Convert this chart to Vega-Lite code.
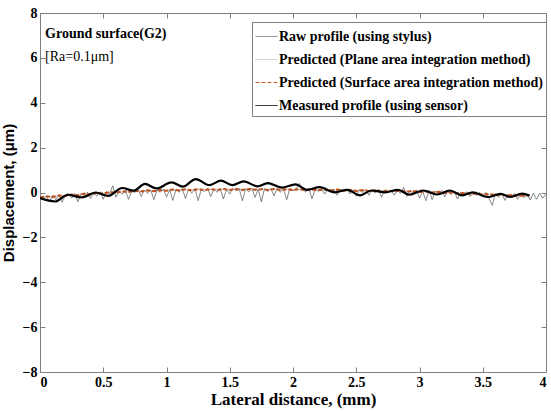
{
  "$schema": "https://vega.github.io/schema/vega-lite/v6.json",
  "width": 506,
  "height": 359,
  "autosize": {"type": "none"},
  "padding": {"left": 40, "top": 13, "right": 5, "bottom": 40},
  "background": "white",
  "datasets": {
    "notes": [
      {"x": 0.04, "y": 7.05, "label": "Ground surface(G2)", "w": "bold"},
      {"x": 0.04, "y": 6.05, "label": "[Ra=0.1μm]", "w": "normal"}
    ],
    "lines": [
      {"s":"Raw profile (using stylus)","x":0.000,"y":-0.17},{"s":"Raw profile (using stylus)","x":0.025,"y":-0.31},{"s":"Raw profile (using stylus)","x":0.050,"y":-0.16},{"s":"Raw profile (using stylus)","x":0.075,"y":-0.42},{"s":"Raw profile (using stylus)","x":0.100,"y":-0.12},
      {"s":"Raw profile (using stylus)","x":0.125,"y":-0.33},{"s":"Raw profile (using stylus)","x":0.150,"y":-0.10},{"s":"Raw profile (using stylus)","x":0.175,"y":-0.44},{"s":"Raw profile (using stylus)","x":0.200,"y":-0.13},{"s":"Raw profile (using stylus)","x":0.225,"y":-0.06},
      {"s":"Raw profile (using stylus)","x":0.250,"y":-0.25},{"s":"Raw profile (using stylus)","x":0.275,"y":-0.05},{"s":"Raw profile (using stylus)","x":0.300,"y":-0.41},{"s":"Raw profile (using stylus)","x":0.325,"y":-0.05},{"s":"Raw profile (using stylus)","x":0.350,"y":-0.14},
      {"s":"Raw profile (using stylus)","x":0.375,"y":0.01},{"s":"Raw profile (using stylus)","x":0.400,"y":-0.26},{"s":"Raw profile (using stylus)","x":0.425,"y":-0.03},{"s":"Raw profile (using stylus)","x":0.450,"y":-0.16},{"s":"Raw profile (using stylus)","x":0.475,"y":0.03},
      {"s":"Raw profile (using stylus)","x":0.500,"y":-0.30},{"s":"Raw profile (using stylus)","x":0.525,"y":0.03},{"s":"Raw profile (using stylus)","x":0.550,"y":-0.05},{"s":"Raw profile (using stylus)","x":0.575,"y":0.30},{"s":"Raw profile (using stylus)","x":0.600,"y":-0.21},
      {"s":"Raw profile (using stylus)","x":0.625,"y":0.05},{"s":"Raw profile (using stylus)","x":0.650,"y":-0.07},{"s":"Raw profile (using stylus)","x":0.675,"y":0.11},{"s":"Raw profile (using stylus)","x":0.700,"y":-0.30},{"s":"Raw profile (using stylus)","x":0.725,"y":0.07},
      {"s":"Raw profile (using stylus)","x":0.750,"y":0.00},{"s":"Raw profile (using stylus)","x":0.775,"y":0.15},{"s":"Raw profile (using stylus)","x":0.800,"y":-0.18},{"s":"Raw profile (using stylus)","x":0.825,"y":0.11},{"s":"Raw profile (using stylus)","x":0.850,"y":-0.04},
      {"s":"Raw profile (using stylus)","x":0.875,"y":0.12},{"s":"Raw profile (using stylus)","x":0.900,"y":-0.32},{"s":"Raw profile (using stylus)","x":0.925,"y":0.12},{"s":"Raw profile (using stylus)","x":0.950,"y":0.01},{"s":"Raw profile (using stylus)","x":0.975,"y":0.15},
      {"s":"Raw profile (using stylus)","x":1.000,"y":-0.20},{"s":"Raw profile (using stylus)","x":1.025,"y":0.12},{"s":"Raw profile (using stylus)","x":1.050,"y":-0.35},{"s":"Raw profile (using stylus)","x":1.075,"y":0.15},{"s":"Raw profile (using stylus)","x":1.100,"y":0.01},
      {"s":"Raw profile (using stylus)","x":1.125,"y":0.17},{"s":"Raw profile (using stylus)","x":1.150,"y":-0.27},{"s":"Raw profile (using stylus)","x":1.175,"y":0.14},{"s":"Raw profile (using stylus)","x":1.200,"y":-0.03},{"s":"Raw profile (using stylus)","x":1.225,"y":0.17},
      {"s":"Raw profile (using stylus)","x":1.250,"y":-0.36},{"s":"Raw profile (using stylus)","x":1.275,"y":0.14},{"s":"Raw profile (using stylus)","x":1.300,"y":0.04},{"s":"Raw profile (using stylus)","x":1.325,"y":0.18},{"s":"Raw profile (using stylus)","x":1.350,"y":-0.18},
      {"s":"Raw profile (using stylus)","x":1.375,"y":0.15},{"s":"Raw profile (using stylus)","x":1.400,"y":0.01},{"s":"Raw profile (using stylus)","x":1.425,"y":0.18},{"s":"Raw profile (using stylus)","x":1.450,"y":-0.29},{"s":"Raw profile (using stylus)","x":1.475,"y":0.15},
      {"s":"Raw profile (using stylus)","x":1.500,"y":-0.07},{"s":"Raw profile (using stylus)","x":1.525,"y":0.19},{"s":"Raw profile (using stylus)","x":1.550,"y":0.08},{"s":"Raw profile (using stylus)","x":1.575,"y":0.17},{"s":"Raw profile (using stylus)","x":1.600,"y":-0.37},
      {"s":"Raw profile (using stylus)","x":1.625,"y":0.16},{"s":"Raw profile (using stylus)","x":1.650,"y":0.03},{"s":"Raw profile (using stylus)","x":1.675,"y":0.20},{"s":"Raw profile (using stylus)","x":1.700,"y":-0.22},{"s":"Raw profile (using stylus)","x":1.725,"y":0.15},
      {"s":"Raw profile (using stylus)","x":1.750,"y":-0.42},{"s":"Raw profile (using stylus)","x":1.775,"y":0.18},{"s":"Raw profile (using stylus)","x":1.800,"y":0.05},{"s":"Raw profile (using stylus)","x":1.825,"y":0.17},{"s":"Raw profile (using stylus)","x":1.850,"y":-0.15},
      {"s":"Raw profile (using stylus)","x":1.875,"y":0.19},{"s":"Raw profile (using stylus)","x":1.900,"y":0.01},{"s":"Raw profile (using stylus)","x":1.925,"y":0.16},{"s":"Raw profile (using stylus)","x":1.950,"y":-0.32},{"s":"Raw profile (using stylus)","x":1.975,"y":0.18},
      {"s":"Raw profile (using stylus)","x":2.000,"y":0.07},{"s":"Raw profile (using stylus)","x":2.025,"y":0.17},{"s":"Raw profile (using stylus)","x":2.050,"y":0.40},{"s":"Raw profile (using stylus)","x":2.075,"y":0.14},{"s":"Raw profile (using stylus)","x":2.100,"y":0.02},
      {"s":"Raw profile (using stylus)","x":2.125,"y":0.20},{"s":"Raw profile (using stylus)","x":2.150,"y":-0.28},{"s":"Raw profile (using stylus)","x":2.175,"y":0.15},{"s":"Raw profile (using stylus)","x":2.200,"y":0.07},{"s":"Raw profile (using stylus)","x":2.225,"y":0.17},
      {"s":"Raw profile (using stylus)","x":2.250,"y":-0.07},{"s":"Raw profile (using stylus)","x":2.275,"y":0.14},{"s":"Raw profile (using stylus)","x":2.300,"y":0.03},{"s":"Raw profile (using stylus)","x":2.325,"y":0.14},{"s":"Raw profile (using stylus)","x":2.350,"y":-0.12},
      {"s":"Raw profile (using stylus)","x":2.375,"y":0.15},{"s":"Raw profile (using stylus)","x":2.400,"y":0.04},{"s":"Raw profile (using stylus)","x":2.425,"y":0.16},{"s":"Raw profile (using stylus)","x":2.450,"y":-0.06},{"s":"Raw profile (using stylus)","x":2.475,"y":0.12},
      {"s":"Raw profile (using stylus)","x":2.500,"y":-0.16},{"s":"Raw profile (using stylus)","x":2.525,"y":0.13},{"s":"Raw profile (using stylus)","x":2.550,"y":0.00},{"s":"Raw profile (using stylus)","x":2.575,"y":0.14},{"s":"Raw profile (using stylus)","x":2.600,"y":-0.12},
      {"s":"Raw profile (using stylus)","x":2.625,"y":0.10},{"s":"Raw profile (using stylus)","x":2.650,"y":-0.03},{"s":"Raw profile (using stylus)","x":2.675,"y":0.15},{"s":"Raw profile (using stylus)","x":2.700,"y":-0.21},{"s":"Raw profile (using stylus)","x":2.725,"y":0.11},
      {"s":"Raw profile (using stylus)","x":2.750,"y":0.00},{"s":"Raw profile (using stylus)","x":2.775,"y":0.11},{"s":"Raw profile (using stylus)","x":2.800,"y":-0.12},{"s":"Raw profile (using stylus)","x":2.825,"y":0.09},{"s":"Raw profile (using stylus)","x":2.850,"y":-0.04},
      {"s":"Raw profile (using stylus)","x":2.875,"y":0.23},{"s":"Raw profile (using stylus)","x":2.900,"y":-0.17},{"s":"Raw profile (using stylus)","x":2.925,"y":0.09},{"s":"Raw profile (using stylus)","x":2.950,"y":-0.03},{"s":"Raw profile (using stylus)","x":2.975,"y":0.11},
      {"s":"Raw profile (using stylus)","x":3.000,"y":-0.25},{"s":"Raw profile (using stylus)","x":3.025,"y":0.07},{"s":"Raw profile (using stylus)","x":3.050,"y":-0.36},{"s":"Raw profile (using stylus)","x":3.075,"y":0.10},{"s":"Raw profile (using stylus)","x":3.100,"y":-0.32},
      {"s":"Raw profile (using stylus)","x":3.125,"y":0.06},{"s":"Raw profile (using stylus)","x":3.150,"y":-0.04},{"s":"Raw profile (using stylus)","x":3.175,"y":0.09},{"s":"Raw profile (using stylus)","x":3.200,"y":-0.19},{"s":"Raw profile (using stylus)","x":3.225,"y":0.05},
      {"s":"Raw profile (using stylus)","x":3.250,"y":-0.10},{"s":"Raw profile (using stylus)","x":3.275,"y":0.05},{"s":"Raw profile (using stylus)","x":3.300,"y":-0.29},{"s":"Raw profile (using stylus)","x":3.325,"y":0.01},{"s":"Raw profile (using stylus)","x":3.350,"y":-0.10},
      {"s":"Raw profile (using stylus)","x":3.375,"y":0.04},{"s":"Raw profile (using stylus)","x":3.400,"y":-0.18},{"s":"Raw profile (using stylus)","x":3.425,"y":0.00},{"s":"Raw profile (using stylus)","x":3.450,"y":-0.12},{"s":"Raw profile (using stylus)","x":3.475,"y":0.00},
      {"s":"Raw profile (using stylus)","x":3.500,"y":-0.16},{"s":"Raw profile (using stylus)","x":3.525,"y":0.00},{"s":"Raw profile (using stylus)","x":3.550,"y":-0.27},{"s":"Raw profile (using stylus)","x":3.575,"y":-0.57},{"s":"Raw profile (using stylus)","x":3.600,"y":-0.04},
      {"s":"Raw profile (using stylus)","x":3.625,"y":-0.21},{"s":"Raw profile (using stylus)","x":3.650,"y":-0.04},{"s":"Raw profile (using stylus)","x":3.675,"y":-0.35},{"s":"Raw profile (using stylus)","x":3.700,"y":-0.07},{"s":"Raw profile (using stylus)","x":3.725,"y":-0.19},
      {"s":"Raw profile (using stylus)","x":3.750,"y":-0.05},{"s":"Raw profile (using stylus)","x":3.775,"y":-0.30},{"s":"Raw profile (using stylus)","x":3.800,"y":-0.08},{"s":"Raw profile (using stylus)","x":3.825,"y":-0.23},{"s":"Raw profile (using stylus)","x":3.850,"y":-0.08},
      {"s":"Raw profile (using stylus)","x":3.875,"y":-0.34},{"s":"Raw profile (using stylus)","x":3.900,"y":-0.03},{"s":"Raw profile (using stylus)","x":3.925,"y":-0.30},{"s":"Raw profile (using stylus)","x":3.950,"y":-0.04},{"s":"Raw profile (using stylus)","x":3.975,"y":-0.25},
      {"s":"Raw profile (using stylus)","x":4.000,"y":-0.05},
      {"s":"Predicted (Plane area integration method)","x":0.0,"y":-0.20},{"s":"Predicted (Plane area integration method)","x":0.1,"y":-0.17},{"s":"Predicted (Plane area integration method)","x":0.2,"y":-0.13},{"s":"Predicted (Plane area integration method)","x":0.3,"y":-0.10},{"s":"Predicted (Plane area integration method)","x":0.4,"y":-0.06},
      {"s":"Predicted (Plane area integration method)","x":0.5,"y":-0.03},{"s":"Predicted (Plane area integration method)","x":0.6,"y":0.01},{"s":"Predicted (Plane area integration method)","x":0.7,"y":0.04},{"s":"Predicted (Plane area integration method)","x":0.8,"y":0.06},{"s":"Predicted (Plane area integration method)","x":0.9,"y":0.08},
      {"s":"Predicted (Plane area integration method)","x":1.0,"y":0.10},{"s":"Predicted (Plane area integration method)","x":1.1,"y":0.11},{"s":"Predicted (Plane area integration method)","x":1.2,"y":0.12},{"s":"Predicted (Plane area integration method)","x":1.3,"y":0.13},{"s":"Predicted (Plane area integration method)","x":1.4,"y":0.13},
      {"s":"Predicted (Plane area integration method)","x":1.5,"y":0.14},{"s":"Predicted (Plane area integration method)","x":1.6,"y":0.14},{"s":"Predicted (Plane area integration method)","x":1.7,"y":0.14},{"s":"Predicted (Plane area integration method)","x":1.8,"y":0.14},{"s":"Predicted (Plane area integration method)","x":1.9,"y":0.13},
      {"s":"Predicted (Plane area integration method)","x":2.0,"y":0.13},{"s":"Predicted (Plane area integration method)","x":2.1,"y":0.12},{"s":"Predicted (Plane area integration method)","x":2.2,"y":0.12},{"s":"Predicted (Plane area integration method)","x":2.3,"y":0.11},{"s":"Predicted (Plane area integration method)","x":2.4,"y":0.10},
      {"s":"Predicted (Plane area integration method)","x":2.5,"y":0.09},{"s":"Predicted (Plane area integration method)","x":2.6,"y":0.08},{"s":"Predicted (Plane area integration method)","x":2.7,"y":0.07},{"s":"Predicted (Plane area integration method)","x":2.8,"y":0.06},{"s":"Predicted (Plane area integration method)","x":2.9,"y":0.05},
      {"s":"Predicted (Plane area integration method)","x":3.0,"y":0.04},{"s":"Predicted (Plane area integration method)","x":3.1,"y":0.02},{"s":"Predicted (Plane area integration method)","x":3.2,"y":0.00},{"s":"Predicted (Plane area integration method)","x":3.3,"y":-0.02},{"s":"Predicted (Plane area integration method)","x":3.4,"y":-0.05},
      {"s":"Predicted (Plane area integration method)","x":3.5,"y":-0.07},{"s":"Predicted (Plane area integration method)","x":3.6,"y":-0.09},{"s":"Predicted (Plane area integration method)","x":3.7,"y":-0.11},{"s":"Predicted (Plane area integration method)","x":3.8,"y":-0.13},{"s":"Predicted (Plane area integration method)","x":3.87,"y":-0.14},
      {"s":"Predicted (Surface area integration method)","x":0.00,"y":-0.22},{"s":"Predicted (Surface area integration method)","x":0.05,"y":-0.17},{"s":"Predicted (Surface area integration method)","x":0.10,"y":-0.20},{"s":"Predicted (Surface area integration method)","x":0.15,"y":-0.13},{"s":"Predicted (Surface area integration method)","x":0.20,"y":-0.16},
      {"s":"Predicted (Surface area integration method)","x":0.25,"y":-0.09},{"s":"Predicted (Surface area integration method)","x":0.30,"y":-0.12},{"s":"Predicted (Surface area integration method)","x":0.35,"y":-0.05},{"s":"Predicted (Surface area integration method)","x":0.40,"y":-0.09},{"s":"Predicted (Surface area integration method)","x":0.45,"y":-0.02},
      {"s":"Predicted (Surface area integration method)","x":0.50,"y":-0.05},{"s":"Predicted (Surface area integration method)","x":0.55,"y":0.02},{"s":"Predicted (Surface area integration method)","x":0.60,"y":-0.01},{"s":"Predicted (Surface area integration method)","x":0.65,"y":0.05},{"s":"Predicted (Surface area integration method)","x":0.70,"y":0.02},
      {"s":"Predicted (Surface area integration method)","x":0.75,"y":0.08},{"s":"Predicted (Surface area integration method)","x":0.80,"y":0.04},{"s":"Predicted (Surface area integration method)","x":0.85,"y":0.10},{"s":"Predicted (Surface area integration method)","x":0.90,"y":0.06},{"s":"Predicted (Surface area integration method)","x":0.95,"y":0.11},
      {"s":"Predicted (Surface area integration method)","x":1.00,"y":0.08},{"s":"Predicted (Surface area integration method)","x":1.05,"y":0.13},{"s":"Predicted (Surface area integration method)","x":1.10,"y":0.09},{"s":"Predicted (Surface area integration method)","x":1.15,"y":0.14},{"s":"Predicted (Surface area integration method)","x":1.20,"y":0.10},
      {"s":"Predicted (Surface area integration method)","x":1.25,"y":0.15},{"s":"Predicted (Surface area integration method)","x":1.30,"y":0.11},{"s":"Predicted (Surface area integration method)","x":1.35,"y":0.15},{"s":"Predicted (Surface area integration method)","x":1.40,"y":0.11},{"s":"Predicted (Surface area integration method)","x":1.45,"y":0.16},
      {"s":"Predicted (Surface area integration method)","x":1.50,"y":0.11},{"s":"Predicted (Surface area integration method)","x":1.55,"y":0.15},{"s":"Predicted (Surface area integration method)","x":1.60,"y":0.11},{"s":"Predicted (Surface area integration method)","x":1.65,"y":0.16},{"s":"Predicted (Surface area integration method)","x":1.70,"y":0.12},
      {"s":"Predicted (Surface area integration method)","x":1.75,"y":0.15},{"s":"Predicted (Surface area integration method)","x":1.80,"y":0.11},{"s":"Predicted (Surface area integration method)","x":1.85,"y":0.16},{"s":"Predicted (Surface area integration method)","x":1.90,"y":0.11},{"s":"Predicted (Surface area integration method)","x":1.95,"y":0.15},
      {"s":"Predicted (Surface area integration method)","x":2.00,"y":0.11},{"s":"Predicted (Surface area integration method)","x":2.05,"y":0.15},{"s":"Predicted (Surface area integration method)","x":2.10,"y":0.10},{"s":"Predicted (Surface area integration method)","x":2.15,"y":0.14},{"s":"Predicted (Surface area integration method)","x":2.20,"y":0.10},
      {"s":"Predicted (Surface area integration method)","x":2.25,"y":0.13},{"s":"Predicted (Surface area integration method)","x":2.30,"y":0.09},{"s":"Predicted (Surface area integration method)","x":2.35,"y":0.13},{"s":"Predicted (Surface area integration method)","x":2.40,"y":0.08},{"s":"Predicted (Surface area integration method)","x":2.45,"y":0.12},
      {"s":"Predicted (Surface area integration method)","x":2.50,"y":0.07},{"s":"Predicted (Surface area integration method)","x":2.55,"y":0.11},{"s":"Predicted (Surface area integration method)","x":2.60,"y":0.06},{"s":"Predicted (Surface area integration method)","x":2.65,"y":0.10},{"s":"Predicted (Surface area integration method)","x":2.70,"y":0.05},
      {"s":"Predicted (Surface area integration method)","x":2.75,"y":0.09},{"s":"Predicted (Surface area integration method)","x":2.80,"y":0.05},{"s":"Predicted (Surface area integration method)","x":2.85,"y":0.08},{"s":"Predicted (Surface area integration method)","x":2.90,"y":0.04},{"s":"Predicted (Surface area integration method)","x":2.95,"y":0.07},
      {"s":"Predicted (Surface area integration method)","x":3.00,"y":0.02},{"s":"Predicted (Surface area integration method)","x":3.05,"y":0.05},{"s":"Predicted (Surface area integration method)","x":3.10,"y":0.00},{"s":"Predicted (Surface area integration method)","x":3.15,"y":0.03},{"s":"Predicted (Surface area integration method)","x":3.20,"y":-0.02},
      {"s":"Predicted (Surface area integration method)","x":3.25,"y":0.01},{"s":"Predicted (Surface area integration method)","x":3.30,"y":-0.04},{"s":"Predicted (Surface area integration method)","x":3.35,"y":-0.02},{"s":"Predicted (Surface area integration method)","x":3.40,"y":-0.07},{"s":"Predicted (Surface area integration method)","x":3.45,"y":-0.04},
      {"s":"Predicted (Surface area integration method)","x":3.50,"y":-0.09},{"s":"Predicted (Surface area integration method)","x":3.55,"y":-0.07},{"s":"Predicted (Surface area integration method)","x":3.60,"y":-0.11},{"s":"Predicted (Surface area integration method)","x":3.65,"y":-0.09},{"s":"Predicted (Surface area integration method)","x":3.70,"y":-0.13},
      {"s":"Predicted (Surface area integration method)","x":3.75,"y":-0.11},{"s":"Predicted (Surface area integration method)","x":3.80,"y":-0.15},{"s":"Predicted (Surface area integration method)","x":3.87,"y":-0.13},
      {"s":"Measured profile (using sensor)","x":0.00,"y":-0.25},{"s":"Measured profile (using sensor)","x":0.12,"y":-0.40},{"s":"Measured profile (using sensor)","x":0.22,"y":-0.10},{"s":"Measured profile (using sensor)","x":0.33,"y":-0.22},{"s":"Measured profile (using sensor)","x":0.44,"y":0.00},
      {"s":"Measured profile (using sensor)","x":0.54,"y":-0.15},{"s":"Measured profile (using sensor)","x":0.65,"y":0.20},{"s":"Measured profile (using sensor)","x":0.74,"y":0.08},{"s":"Measured profile (using sensor)","x":0.83,"y":0.38},{"s":"Measured profile (using sensor)","x":0.92,"y":0.18},
      {"s":"Measured profile (using sensor)","x":1.04,"y":0.45},{"s":"Measured profile (using sensor)","x":1.13,"y":0.26},{"s":"Measured profile (using sensor)","x":1.23,"y":0.60},{"s":"Measured profile (using sensor)","x":1.34,"y":0.33},{"s":"Measured profile (using sensor)","x":1.43,"y":0.53},
      {"s":"Measured profile (using sensor)","x":1.52,"y":0.33},{"s":"Measured profile (using sensor)","x":1.61,"y":0.50},{"s":"Measured profile (using sensor)","x":1.72,"y":0.27},{"s":"Measured profile (using sensor)","x":1.80,"y":0.42},{"s":"Measured profile (using sensor)","x":1.91,"y":0.22},
      {"s":"Measured profile (using sensor)","x":2.02,"y":0.36},{"s":"Measured profile (using sensor)","x":2.11,"y":0.12},{"s":"Measured profile (using sensor)","x":2.21,"y":0.24},{"s":"Measured profile (using sensor)","x":2.33,"y":0.01},{"s":"Measured profile (using sensor)","x":2.43,"y":0.12},
      {"s":"Measured profile (using sensor)","x":2.53,"y":-0.13},{"s":"Measured profile (using sensor)","x":2.62,"y":0.09},{"s":"Measured profile (using sensor)","x":2.73,"y":0.01},{"s":"Measured profile (using sensor)","x":2.83,"y":0.12},{"s":"Measured profile (using sensor)","x":2.92,"y":-0.10},
      {"s":"Measured profile (using sensor)","x":3.03,"y":0.09},{"s":"Measured profile (using sensor)","x":3.14,"y":-0.09},{"s":"Measured profile (using sensor)","x":3.24,"y":0.09},{"s":"Measured profile (using sensor)","x":3.34,"y":-0.13},{"s":"Measured profile (using sensor)","x":3.42,"y":0.01},
      {"s":"Measured profile (using sensor)","x":3.54,"y":-0.20},{"s":"Measured profile (using sensor)","x":3.64,"y":-0.06},{"s":"Measured profile (using sensor)","x":3.72,"y":-0.20},{"s":"Measured profile (using sensor)","x":3.81,"y":-0.05},{"s":"Measured profile (using sensor)","x":3.87,"y":-0.13}
    ]
  },
  "config": {
    "view": {"stroke": "#808080", "strokeWidth": 1},
    "axis": {
      "grid": false,
      "domainColor": "#808080",
      "tickColor": "#808080",
      "labelFont": "Liberation Sans Narrow",
      "labelFontWeight": "bold",
      "labelFontSize": 14,
      "labelColor": "black",
      "titleFont": "Liberation Sans",
      "titleFontWeight": "bold",
      "titleFontSize": 15,
      "titleColor": "black",
      "tickSize": -5,
      "labelPadding": 8
    },
    "legend": {
      "orient": "none",
      "legendX": 212,
      "legendY": 9,
      "title": null,
      "fillColor": "white",
      "strokeColor": "#808080",
      "padding": 3,
      "cornerRadius": 0,
      "symbolType": "stroke",
      "symbolSize": 484,
      "labelFont": "Liberation Serif",
      "labelFontWeight": "bold",
      "labelFontSize": 14,
      "labelColor": "black",
      "labelOffset": 1,
      "rowPadding": 4,
      "labelLimit": 400
    }
  },
  "resolve": {"axis": {"x": "independent", "y": "independent"}},
  "layer": [
    {
      "data": {"name": "lines"},
      "transform": [{"filter": "datum.s === 'Raw profile (using stylus)'"}],
      "mark": {"type": "line", "clip": true},
      "encoding": {
        "x": {"field": "x", "type": "quantitative", "scale": {"domain": [0, 4], "nice": false},
          "axis": {"orient": "bottom", "values": [0, 0.5, 1, 1.5, 2, 2.5, 3, 3.5, 4], "format": "~g", "title": "Lateral distance, (mm)", "titleFont": "Liberation Sans Narrow", "titleFontSize": 17, "titlePadding": 2}},
        "y": {"field": "y", "type": "quantitative", "scale": {"domain": [-8, 8], "nice": false},
          "axis": {"orient": "left", "values": [-8, -6, -4, -2, 0, 2, 4, 6, 8], "title": "Displacement,  (μm)", "titlePadding": 6}},
        "color": {"field": "s", "type": "nominal",
          "scale": {"domain": ["Raw profile (using stylus)", "Predicted (Plane area integration method)", "Predicted (Surface area integration method)", "Measured profile (using sensor)"],
                    "range": ["#5a5a5a", "#9a9a9a", "#c0501a", "#000000"]}},
        "strokeDash": {"field": "s", "type": "nominal",
          "scale": {"domain": ["Raw profile (using stylus)", "Predicted (Plane area integration method)", "Predicted (Surface area integration method)", "Measured profile (using sensor)"],
                    "range": [[1, 0], [1, 1], [4, 2], [1, 0]]}},
        "strokeWidth": {"field": "s", "type": "nominal",
          "scale": {"domain": ["Raw profile (using stylus)", "Predicted (Plane area integration method)", "Predicted (Surface area integration method)", "Measured profile (using sensor)"],
                    "range": [0.8, 1, 2, 2.2]}}
      }
    },
    {
      "data": {"name": "lines"},
      "transform": [{"filter": "datum.s === 'Predicted (Plane area integration method)'"}],
      "mark": {"type": "line", "clip": true, "color": "#9a9a9a", "strokeWidth": 1, "strokeDash": [1, 1]},
      "encoding": {
        "x": {"field": "x", "type": "quantitative", "axis": null},
        "y": {"field": "y", "type": "quantitative", "axis": null}
      }
    },
    {
      "data": {"name": "lines"},
      "transform": [{"filter": "datum.s === 'Predicted (Surface area integration method)'"}],
      "mark": {"type": "line", "clip": true, "color": "#c0501a", "strokeWidth": 2, "strokeDash": [4, 2]},
      "encoding": {
        "x": {"field": "x", "type": "quantitative", "axis": null},
        "y": {"field": "y", "type": "quantitative", "axis": null}
      }
    },
    {
      "data": {"name": "lines"},
      "transform": [{"filter": "datum.s === 'Measured profile (using sensor)'"}],
      "mark": {"type": "line", "clip": true, "interpolate": "monotone", "color": "#000000", "strokeWidth": 2.2},
      "encoding": {
        "x": {"field": "x", "type": "quantitative", "axis": null},
        "y": {"field": "y", "type": "quantitative", "axis": null}
      }
    },
    {
      "data": {"name": "notes"},
      "transform": [{"filter": "datum.w === 'bold'"}],
      "mark": {"type": "text", "align": "left", "baseline": "middle", "font": "Liberation Serif", "fontSize": 14, "fontWeight": "bold", "color": "black"},
      "encoding": {
        "x": {"field": "x", "type": "quantitative", "axis": {"orient": "top", "values": [0, 0.5, 1, 1.5, 2, 2.5, 3, 3.5, 4], "labels": false, "title": null, "domain": false}},
        "y": {"field": "y", "type": "quantitative", "axis": {"orient": "right", "values": [-8, -6, -4, -2, 0, 2, 4, 6, 8], "labels": false, "title": null, "domain": false}},
        "text": {"field": "label"}
      }
    },
    {
      "data": {"name": "notes"},
      "transform": [{"filter": "datum.w === 'normal'"}],
      "mark": {"type": "text", "align": "left", "baseline": "middle", "font": "Liberation Serif", "fontSize": 14, "color": "black"},
      "encoding": {
        "x": {"field": "x", "type": "quantitative", "axis": null},
        "y": {"field": "y", "type": "quantitative", "axis": null},
        "text": {"field": "label"}
      }
    }
  ]
}
